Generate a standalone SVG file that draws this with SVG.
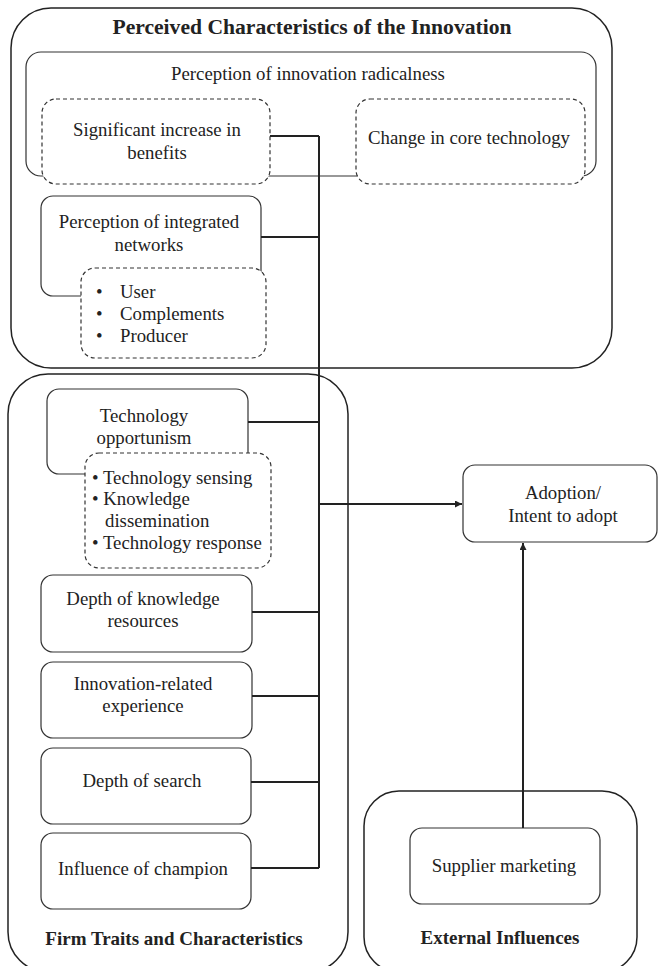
<svg xmlns="http://www.w3.org/2000/svg" width="659" height="966" viewBox="0 0 659 966">
<defs>
<style>
text{font-family:"Liberation Serif","Times New Roman",serif;fill:#222;font-size:18.8px;text-anchor:middle}
.b{font-weight:bold;font-size:19px}
.t{font-weight:bold;font-size:21.6px}
.l{text-anchor:start}
.outer{fill:none;stroke:#222;stroke-width:1.5}
.box{fill:#fff;stroke:#333;stroke-width:1.2}
.dash{fill:#fff;stroke:#333;stroke-width:1.2;stroke-dasharray:4 3}
.conn{fill:none;stroke:#222;stroke-width:2}
</style>
<marker id="ah" viewBox="0 0 10 10" refX="10" refY="5" markerWidth="7" markerHeight="7" markerUnits="userSpaceOnUse" orient="auto"><path d="M0,0 L10,5 L0,10 z" fill="#222"/></marker>
</defs>
<rect width="659" height="966" fill="#fff"/>

<g id="perceived">
<rect class="outer" x="11" y="8" width="601" height="360" rx="40"/>
<text class="t" x="312" y="34">Perceived Characteristics of the Innovation</text>
</g>
<g id="radicalness">
<rect class="box" x="26" y="52" width="570" height="124" rx="15"/>
<text x="308" y="80">Perception of innovation radicalness</text>
</g>
<g id="benefits">
<rect class="dash" x="42" y="99" width="228" height="85" rx="14"/>
<text x="157" y="136">Significant increase in</text>
<text x="157" y="159">benefits</text>
</g>
<g id="coretech">
<rect class="dash" x="356" y="99" width="229" height="85" rx="14"/>
<text x="469" y="144">Change in core technology</text>
</g>
<g id="networks">
<rect class="box" x="41" y="196" width="220" height="100" rx="12"/>
<text x="149" y="228">Perception of integrated</text>
<text x="149" y="251">networks</text>
</g>
<g id="networks-list">
<rect class="dash" x="81" y="268" width="185" height="90" rx="14"/>
<text class="l" x="96" y="298">•</text><text class="l" x="120" y="298">User</text>
<text class="l" x="96" y="320">•</text><text class="l" x="120" y="320">Complements</text>
<text class="l" x="96" y="342">•</text><text class="l" x="120" y="342">Producer</text>
</g>

<g id="firm">
<rect class="outer" x="8" y="374" width="340" height="598" rx="40"/>
<text class="b" x="174" y="945">Firm Traits and Characteristics</text>
</g>
<g id="opportunism">
<rect class="box" x="47" y="389" width="201" height="85" rx="12"/>
<text x="144" y="422">Technology</text>
<text x="144" y="444">opportunism</text>
</g>
<g id="opportunism-list">
<rect class="dash" x="85" y="453" width="186" height="115" rx="14"/>
<text class="l" x="92" y="484">• Technology sensing</text>
<text class="l" x="92" y="505">• Knowledge</text>
<text class="l" x="105" y="527">dissemination</text>
<text class="l" x="92" y="549">• Technology response</text>
</g>
<g id="knowledge">
<rect class="box" x="41" y="575" width="211" height="77" rx="12"/>
<text x="143" y="605">Depth of knowledge</text>
<text x="143" y="627">resources</text>
</g>
<g id="experience">
<rect class="box" x="41" y="662" width="211" height="76" rx="12"/>
<text x="143" y="690">Innovation-related</text>
<text x="143" y="712">experience</text>
</g>
<g id="search">
<rect class="box" x="41" y="748" width="210" height="76" rx="12"/>
<text x="142" y="787">Depth of search</text>
</g>
<g id="champion">
<rect class="box" x="41" y="833" width="210" height="76" rx="12"/>
<text x="143" y="875">Influence of champion</text>
</g>

<g id="external">
<rect class="outer" x="364" y="791" width="273" height="181" rx="35"/>
<text class="b" x="500" y="944">External Influences</text>
</g>
<g id="supplier">
<rect class="box" x="410" y="828" width="190" height="76" rx="12"/>
<text x="504" y="872">Supplier marketing</text>
</g>

<g id="adoption">
<rect class="box" x="463" y="465" width="194" height="77" rx="12"/>
<text x="563" y="499">Adoption/</text>
<text x="563" y="522">Intent to adopt</text>
</g>

<g id="connectors">
<path class="conn" d="M319,136 V868"/>
<path class="conn" d="M270,136 H319"/>
<path class="conn" d="M261,237 H319"/>
<path class="conn" d="M248,422 H319"/>
<path class="conn" d="M252,612 H319"/>
<path class="conn" d="M252,696 H319"/>
<path class="conn" d="M251,782 H319"/>
<path class="conn" d="M251,868 H319"/>
<path class="conn" d="M319,504 H462" marker-end="url(#ah)"/>
<path class="conn" d="M523,828 V543" marker-end="url(#ah)"/>
</g>
</svg>
